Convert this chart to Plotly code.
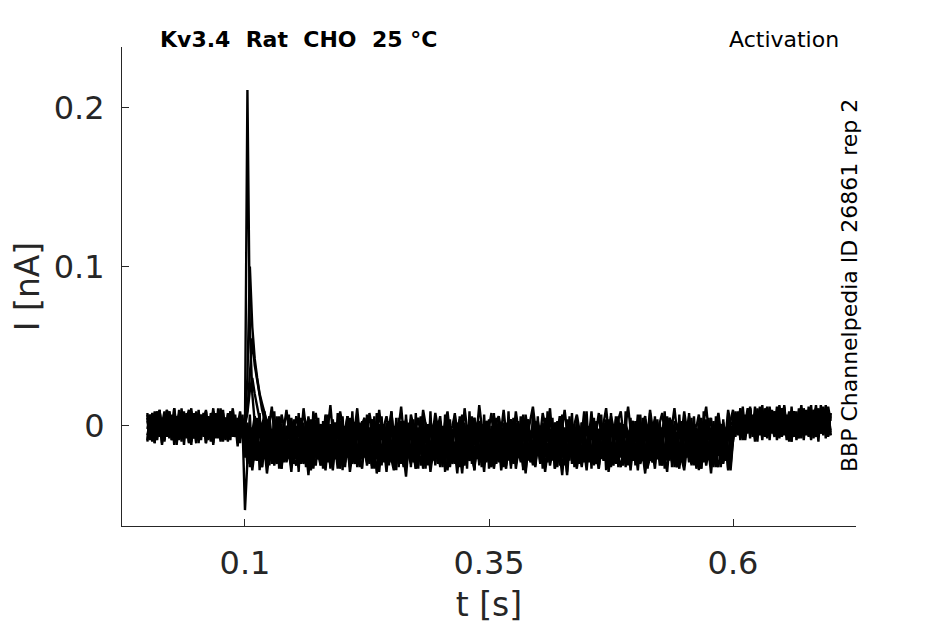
# -*- coding: utf-8 -*-
# Kv3.4 activation traces (rat, CHO, 25 C) - noisy current sweeps
import numpy as np
import plotly.graph_objects as go

# sampling step (s) and protocol times
dt = 0.0025
t_step_on = 0.1
t_step_off = 0.6

# currents in pA
# sweep 1 - large transient
i1_hold = [3, -5, 8, -2, 6, -7, 1, 9, -4, 2, -9, 5, 0, 7, -3, -6, 4, 10, -1, -8,
           6, 2, -5, 8, -3, 1, -10, 4, 7, -2, 5, -6, 3, -4, 9, -1, -7, 2, 6, -3]
i1_step = [0, 211, 60, 20, 2, -8, -14, -6, -19, -11,
           -22, -9, -17, -24, -12, -18, -7, -21, -15, -26,
           -13, -20, -8, -17, -23, -11, -19, -28, -14, -6,
           -18, -25, -12, -16, -22, -9, -20, -13, -27, -15,
           -10, -21, -17, -24, -8, -19, -14, -26, -11, -18,
           -23, -13, -7, -20, -16, -29, -12, -17, -22, -10,
           -19, -25, -14, -8, -21, -16, -24, -11, -18, -13,
           -27, -15, -9, -22, -17, -12, -25, -19, -7, -20,
           -14, -23, -16, -10, -26, -13, -18, -21, -9, -17,
           -24, -12, -19, -15, -28, -11, -20, -16, -8, -22,
           -13, -25, -17, -10, -21, -14, -19, -27, -12, -16,
           -23, -9, -18, -15, -26, -11, -20, -13, -24, -17,
           -8, -22, -14, -19, -12, -25, -16, -21, -10, -18,
           -31, -13, -20, -15, -9, -23, -17, -12, -26, -14,
           -19, -11, -22, -16, -24, -8, -18, -13, -21, -27,
           -15, -10, -20, -17, -12, -25, -14, -19, -9, -22,
           -16, -23, -11, -18, -13, -26, -20, -15, -8, -21,
           -17, -24, -12, -19, -14, -10, -22, -16, -27, -13,
           -18, -11, -23, -15, -20, -9, -25, -17, -12, -19,
           -14, -21, -16, -26, -10, -18, -13, -22, -15, -20]
i1_tail = [-4, 6, -2, 9, 1, -6, 4, 11, -1, 7, -3, 3, 10, -5, 5, 0, 8, -2, 12, 2,
           -7, 6, -1, 9, 3, -4, 7, 1, 10, -3, 4, -6, 8, 2, 11, -2, 5, -1, 13, 0, 6]

# sweep 2 - medium transient
i2_hold = [-6, 2, -3, 7, -9, 4, -1, 6, -5, 9, -2, 3, -7, 1, 8, -4, 5, -11, 2, -3,
           7, -6, 0, 4, -8, 6, -2, 11, -5, 1, -4, 8, -1, 3, -7, 5, -3, 0, 9, -5]
i2_step = [3, 30, 100, 62, 42, 30, 20, 14, 8, 3,
           -3, -9, -6, -14, -10, -19, -13, -22, -16, -11,
           -20, -25, -14, -18, -9, -23, -17, -12, -27, -15,
           -21, -10, -19, -24, -13, -16, -28, -11, -20, -14,
           -18, -26, -9, -22, -15, -12, -24, -17, -21, -8,
           -19, -13, -25, -16, -11, -23, -18, -14, -29, -12,
           -20, -17, -10, -22, -15, -26, -13, -19, -24, -9,
           -16, -21, -12, -27, -18, -14, -23, -11, -20, -15,
           -25, -8, -19, -13, -22, -17, -10, -24, -16, -30,
           -12, -21, -14, -19, -26, -11, -18, -23, -9, -15,
           -20, -13, -27, -17, -12, -22, -16, -25, -10, -19,
           -14, -24, -18, -11, -21, -28, -13, -17, -9, -23,
           -15, -20, -12, -26, -16, -19, -8, -22, -14, -25,
           -18, -11, -24, -13, -20, -17, -27, -10, -21, -15,
           -12, -23, -16, -19, -9, -25, -14, -18, -22, -11,
           -26, -13, -20, -16, -10, -24, -17, -12, -21, -19,
           -15, -28, -11, -22, -14, -18, -9, -23, -16, -20,
           -13, -25, -17, -12, -21, -10, -19, -26, -15, -18,
           -22, -14, -9, -24, -16, -20, -12, -27, -13, -17,
           -21, -11, -18, -25, -14, -10, -22, -16, -19, -28]
i2_tail = [-9, 3, -2, 8, -5, 5, 0, 10, -3, 6, -1, 12, 2, -6, 7, -2, 4, 9, -4, 1,
           11, -3, 6, -7, 3, 8, -1, 5, -5, 10, 0, 7, -3, 2, 13, -2, 4, -6, 9, 1, -4]

# sweep 3 - small transient
i3_hold = [5, -8, 1, 6, -3, 10, -6, 3, -1, 8, -5, 0, -12, 4, -2, 7, -7, 2, 9, -4,
           1, -9, 6, -3, 3, -6, 8, 0, -5, 5, -2, 10, -8, 2, -4, 7, -1, -6, 4, 1]
i3_step = [2, 10, 35, 55, 38, 28, 18, 10, 4, -2,
           6, -9, 1, -12, 3, -5, -14, 0, -8, 5,
           -11, -3, -16, 2, -7, -1, -13, 4, -10, -4,
           -15, 1, -6, -18, -2, -9, 3, -12, -5, 0,
           -14, -7, 6, -10, -3, -16, -1, -8, 2, -13,
           -6, -11, 4, -4, -17, -2, -9, 1, -12, -5,
           8, -7, -15, -1, -10, 3, -6, -13, 0, -8,
           -3, -16, 5, -11, -4, -9, -1, -14, 2, -7,
           -12, -2, -18, 4, -6, -10, 0, -13, -5, 7,
           -9, -3, -15, 1, -8, -11, 3, -4, -14, -1,
           -7, -12, 6, -5, -10, -2, -16, 0, -9, -3,
           -13, 2, -6, -11, -1, -15, 4, -8, -4, -12,
           1, -7, -17, -2, -10, 5, -5, -13, -3, -9,
           0, -14, -6, 3, -11, -1, -8, -15, 2, -4,
           -12, -7, 9, -10, -3, -16, -5, 1, -9, -13,
           -2, -8, 4, -14, -6, -11, 0, -4, -15, -1,
           -10, 3, -7, -12, -5, -2, -17, 1, -9, -6,
           -13, -3, 6, -11, -8, -1, -14, -5, 2, -10,
           -4, -16, 0, -7, -12, -2, -9, 5, -13, -6,
           -1, -11, -8, 3, -15, -4, -10, -2, -7, -12]
i3_tail = [5, -3, 9, 0, -8, 6, 2, 11, -4, 4, -1, 8, -6, 3, 12, -2, 7, -5, 1, 10,
           -3, 5, -9, 6, 0, 9, -4, 2, 13, -1, 4, -7, 8, 3, -2, 11, -5, 6, 0, 7, -3]

# sweep 4 - no outward current, capacitive dip
i4_hold = [-2, 7, -10, 4, -5, 9, 0, -7, 3, 6, -4, 11, -1, -8, 5, 2, -6, 8, -3, 0,
           -11, 6, -2, 4, 9, -7, 1, -4, 7, -1, -9, 3, 5, -6, 8, -3, 2, -13, 6, 0]
i4_step = [-53, -22, -10, -4, 6, -8, 3, -2, 9, -6,
           1, 12, -5, 4, -9, 7, -1, 10, -3, 2,
           -11, 6, 0, -6, 11, -2, 5, -8, 3, 8,
           -4, 1, -10, 7, -1, 13, -5, 2, -7, 9,
           0, -3, 6, -9, 4, -2, 11, -6, 1, 5,
           -12, 8, -1, 3, -7, 10, -4, 0, 6, -3,
           9, -8, 2, -1, 12, -5, 4, -10, 7, 0,
           -2, 5, -6, 10, 1, -9, 3, -4, 8, -1,
           6, -11, 2, 9, -5, 0, 7, -3, 4, -8,
           11, -2, 1, -7, 5, -4, 13, 0, -6, 3,
           -1, 8, -9, 2, 6, -3, 10, -5, 0, 4,
           -7, 9, -2, 1, -10, 7, -4, 5, 12, -1,
           3, -6, 8, 0, -3, 11, -8, 2, -5, 6,
           -1, 10, -4, 4, -9, 1, 7, -2, -6, 9,
           0, -11, 5, 3, -3, 8, -7, 2, 11, -4,
           6, -1, -8, 4, 9, -5, 0, 12, -2, 3,
           -10, 7, -3, 1, 6, -6, 10, -1, 4, -7,
           2, 8, -4, -9, 5, 0, 11, -3, 3, -5,
           9, -2, 6, -8, 1, -1, 7, -6, 4, 12,
           -3, 5, -10, 0, 8, -4, 2, -7, 10, 1]
i4_tail = [2, -5, 8, -1, 6, -9, 3, 10, 0, -4, 7, 1, -6, 11, -2, 5, -3, 9, 2, -7,
           4, 12, -1, 6, -4, 8, 0, -8, 5, 3, -2, 10, -5, 1, 7, -3, 13, -1, 4, -6, 8]

# sweep 5 - tiny transient
i5_hold = [7, -8, 4, -11, 9, -5, 2, -9, 10, -3, 6, -10, 3, -7, 8, -12, 5, -4, 11, -6,
           1, -9, 7, -2, 9, -8, 4, -11, 6, -5, 10, -3, 2, -10, 8, -6, 5, -9, 3, -1]
i5_step = [0, 8, 22, 30, 20, 12, 5, -2, -12, -4,
           -16, -3, -18, -6, -14, -1, -19, -7, -15, -2,
           -17, -5, -20, -4, -13, 0, -18, -8, -16, -3,
           -21, -6, -12, -1, -19, -5, -15, -7, -22, -2,
           -14, -4, -18, -9, -16, 1, -20, -6, -13, -3,
           -17, -8, -21, -2, -15, -5, -19, -4, -12, -7,
           -23, -1, -16, -6, -18, -3, -14, -8, -20, 0,
           -15, -5, -17, -2, -21, -7, -13, -4, -19, -6,
           -16, -1, -22, -5, -14, -8, -18, -3, -20, -2,
           -15, -6, -17, -4, -12, -9, -21, 1, -16, -5,
           -19, -3, -14, -7, -23, -2, -18, -6, -15, -4,
           -20, -1, -13, -8, -17, -5, -22, -3, -16, -7,
           -19, 0, -14, -6, -21, -2, -15, -9, -18, -4,
           -12, -5, -20, -3, -17, -8, -16, -1, -22, -6,
           -14, -4, -19, -7, -15, -2, -21, -5, -13, -3,
           -18, -9, -16, 0, -20, -6, -14, -4, -23, -2,
           -17, -7, -15, -3, -19, -5, -12, -8, -21, -1,
           -16, -6, -18, -4, -14, -2, -20, -7, -15, -5,
           -22, -3, -17, -9, -13, -1, -19, -6, -16, -4,
           -21, -2, -14, -8, -18, -5, -15, -3, -20, -7]
i5_tail = [-6, 8, -3, 11, -8, 5, -1, 9, -5, 12, -2, 6, -9, 7, 0, 10, -4, 4, -7, 13,
           -1, 8, -5, 3, -10, 9, -2, 6, -6, 11, -3, 5, -8, 10, 0, 7, -4, 12, -2, 4, -6]

# sweep 6 - lowest level during the step
i6_hold = [-9, 5, -3, 8, -6, 2, -12, 6, -1, 9, -7, 4, -4, 10, -8, 1, -5, 7, -10, 3,
           -2, 8, -6, 5, -11, 2, -3, 9, -7, 6, -1, 4, -9, 7, -4, 11, -5, 1, -8, 2]
i6_step = [-8, -24, -12, -28, -15, -22, -10, -26, -14, -30,
           -17, -9, -25, -13, -21, -27, -11, -23, -16, -29,
           -12, -20, -26, -8, -24, -15, -31, -13, -19, -25,
           -10, -22, -17, -28, -12, -26, -14, -21, -9, -27,
           -16, -23, -11, -29, -18, -24, -13, -20, -27, -10,
           -25, -15, -22, -12, -30, -17, -23, -9, -26, -14,
           -21, -28, -11, -24, -16, -19, -32, -13, -22, -18,
           -27, -10, -25, -15, -20, -12, -29, -17, -23, -8,
           -26, -14, -21, -28, -11, -24, -16, -30, -13, -19,
           -25, -9, -22, -18, -27, -12, -23, -15, -29, -10,
           -20, -26, -14, -24, -11, -28, -17, -21, -13, -25,
           -9, -27, -16, -22, -12, -30, -15, -23, -18, -26,
           -11, -24, -14, -29, -17, -20, -10, -27, -13, -22,
           -25, -16, -31, -12, -21, -18, -26, -9, -23, -15,
           -28, -11, -24, -14, -19, -27, -13, -22, -10, -29,
           -17, -25, -12, -20, -26, -15, -23, -8, -28, -14,
           -21, -11, -24, -18, -30, -13, -22, -16, -27, -10,
           -25, -14, -19, -29, -12, -23, -17, -26, -11, -21,
           -28, -15, -9, -24, -13, -27, -18, -22, -10, -25,
           -16, -30, -12, -20, -26, -14, -23, -11, -28, -17]
i6_tail = [-10, 4, -3, 9, -6, 1, 11, -4, 6, -8, 3, 10, -1, 7, -5, 12, 0, -7, 5, 8,
           -2, 13, -6, 4, -3, 9, -9, 2, 11, -1, 6, -4, 8, 0, -7, 10, -2, 5, -5, 12, 3]

# sweeps 7 and 8 - wide noisy sweeps spanning the whole band
i7_hold = [8, -9, 6, -11, 9, -7, 5, -10, 10, -8, 7, -12, 6, -9, 11, -6, 8, -10, 5, -8,
           9, -11, 7, -7, 10, -9, 6, -12, 8, -8, 11, -10, 5, -9, 9, -7, 7, -11, 6, -8]
i7_step = [4, -22, 7, -25, 3, -21, 8, -26, 5, -23,
           2, -24, 9, -20, 6, -27, 3, -22, 7, -25,
           4, -21, 8, -24, 2, -26, 6, -23, 9, -20,
           5, -25, 3, -22, 7, -27, 4, -21, 8, -24,
           6, -23, 2, -26, 9, -22, 5, -25, 3, -20,
           7, -24, 4, -27, 8, -21, 6, -23, 2, -25,
           9, -22, 5, -26, 3, -24, 7, -20, 4, -23,
           8, -27, 6, -21, 2, -25, 9, -22, 5, -24,
           3, -26, 7, -23, 4, -20, 8, -25, 6, -22,
           2, -27, 9, -24, 5, -21, 3, -26, 7, -23,
           4, -25, 8, -22, 6, -20, 2, -24, 9, -27,
           5, -21, 3, -23, 7, -26, 4, -22, 8, -25,
           6, -24, 2, -20, 9, -23, 5, -27, 3, -21,
           7, -25, 4, -22, 8, -26, 6, -24, 2, -23,
           9, -20, 5, -25, 3, -27, 7, -22, 4, -24,
           8, -21, 6, -26, 2, -23, 9, -25, 5, -22,
           3, -24, 7, -20, 4, -27, 8, -23, 6, -21,
           2, -25, 9, -22, 5, -26, 3, -24, 7, -23,
           4, -20, 8, -25, 6, -22, 2, -27, 9, -21,
           5, -24, 3, -23, 7, -26, 4, -22, 8, -25]
i7_tail = [-8, 9, -6, 11, -9, 7, -5, 12, -7, 8, -10, 10, -6, 9, -8, 11, -5, 7, -9, 12,
           -7, 10, -6, 8, -10, 9, -5, 11, -8, 7, -6, 12, -9, 10, -7, 8, -5, 11, -8, 9, -6]

i8_hold = [-10, 7, -8, 9, -6, 10, -11, 6, -7, 8, -9, 11, -5, 7, -10, 9, -8, 6, -12, 8,
           -6, 10, -9, 7, -11, 5, -7, 9, -8, 11, -10, 6, -6, 8, -9, 10, -7, 5, -11, 7]
i8_step = [-20, 2, -26, -1, -22, 5, -28, 0, -19, 4,
           -25, -2, -21, 6, -27, 1, -23, -3, -18, 3,
           -24, 0, -29, 5, -20, -1, -26, 2, -22, 4,
           -19, -3, -27, 6, -23, 1, -25, -2, -21, 3,
           -28, 0, -20, 5, -24, -4, -26, 2, -18, 4,
           -22, -1, -27, 6, -21, 1, -25, -3, -23, 3,
           -19, 0, -28, 5, -24, -2, -20, 2, -26, 4,
           -22, -1, -18, 6, -27, 1, -23, -3, -25, 3,
           -21, 0, -29, 5, -19, -2, -24, 2, -26, 4,
           -20, -1, -22, 6, -28, 1, -25, -4, -21, 3,
           -27, 0, -23, 5, -19, -2, -26, 2, -22, 4,
           -24, -1, -20, 6, -28, 1, -21, -3, -25, 3,
           -18, 0, -27, 5, -23, -2, -22, 2, -26, 4,
           -20, -1, -29, 6, -24, 1, -19, -3, -25, 3,
           -21, 0, -27, 5, -23, -2, -20, 2, -28, 4,
           -22, -1, -24, 6, -18, 1, -26, -3, -21, 3,
           -25, 0, -23, 5, -28, -2, -20, 2, -24, 4,
           -19, -1, -27, 6, -22, 1, -26, -4, -21, 3,
           -24, 0, -20, 5, -25, -2, -28, 2, -23, 4,
           -21, -1, -26, 6, -19, 1, -24, -3, -27, 3]
i8_tail = [10, -7, 8, -9, 12, -5, 9, -8, 7, -10, 11, -6, 13, -7, 8, -9, 10, -5, 9, -8,
           11, -6, 7, -10, 12, -7, 9, -5, 8, -9, 10, -6, 13, -8, 7, -10, 11, -5, 9, -7, 8]

sweeps = [(i7_hold, i7_step, i7_tail),
          (i8_hold, i8_step, i8_tail),
          (i6_hold, i6_step, i6_tail),
          (i5_hold, i5_step, i5_tail),
          (i4_hold, i4_step, i4_tail),
          (i3_hold, i3_step, i3_tail),
          (i2_hold, i2_step, i2_tail),
          (i1_hold, i1_step, i1_tail)]

x_ticks = [0.1, 0.35, 0.6]
x_labels = ['0.1', '0.35', '0.6']
y_ticks = [0, 0.1, 0.2]
y_labels = ['0', '0.1', '0.2']

title_left = 'Kv3.4\u00a0\u00a0Rat\u00a0\u00a0CHO\u00a0\u00a025 \u00b0C'
title_right = 'Activation'
side_note = 'BBP Channelpedia ID 26861 rep 2'

axcol = '#262626'
fonte = 'DejaVu Sans, Verdana, sans-serif'


def montar(hold, step, tail):
    # time base for the three parts of the protocol
    t = np.concatenate([np.arange(len(hold)) * dt,
                        t_step_on + np.arange(len(step)) * dt,
                        t_step_off + np.arange(len(tail)) * dt])
    i = np.array(hold + step + tail) / 1000.0  # pA -> nA
    return t, i


fig = go.Figure()
for hold, step, tail in sweeps:
    t, i = montar(hold, step, tail)
    fig.add_trace(go.Scatter(x=t, y=i, mode='lines',
                             line=dict(color='#000000', width=2.4),
                             showlegend=False, hoverinfo='skip'))

# the page body adds 8px on the top/left, so the figure is 8px smaller
fig.update_layout(
    width=937, height=616,
    margin=dict(l=114, r=89, t=39, b=98),
    paper_bgcolor='white', plot_bgcolor='white',
    font=dict(family=fonte, color=axcol),
    xaxis=dict(range=[-0.026, 0.726], tickvals=x_ticks, ticktext=x_labels,
               ticks='inside', ticklen=7, tickcolor=axcol, tickwidth=1,
               showline=True, linecolor=axcol, linewidth=1,
               showgrid=False, zeroline=False, automargin=False,
               tickfont=dict(size=32, color=axcol), ticklabelstandoff=9,
               title=dict(text='t [s]', font=dict(size=33, color=axcol), standoff=11)),
    yaxis=dict(range=[-0.063, 0.238], tickvals=y_ticks, ticktext=y_labels,
               ticks='inside', ticklen=7, tickcolor=axcol, tickwidth=1,
               showline=True, linecolor=axcol, linewidth=1,
               showgrid=False, zeroline=False, automargin=False,
               tickfont=dict(size=32, color=axcol), ticklabelstandoff=10,
               title=dict(text='I [nA]', font=dict(size=33, color=axcol), standoff=8)),
    annotations=[
        dict(text='<b>' + title_left + '</b>', xref='paper', yref='paper',
             x=0.049, y=1.0167, xanchor='left', yanchor='middle', showarrow=False,
             font=dict(size=22, color='#000000', family=fonte)),
        dict(text=title_right, xref='paper', yref='paper',
             x=0.979, y=1.0167, xanchor='right', yanchor='middle', showarrow=False,
             font=dict(size=22, color='#000000', family=fonte)),
        dict(text=side_note, xref='paper', yref='paper', textangle=-90,
             x=0.9905, y=0.501, xanchor='center', yanchor='middle', showarrow=False,
             font=dict(size=22, color='#000000', family=fonte)),
    ],
)

fig.write_html("out.html", config={'displayModeBar': False})
